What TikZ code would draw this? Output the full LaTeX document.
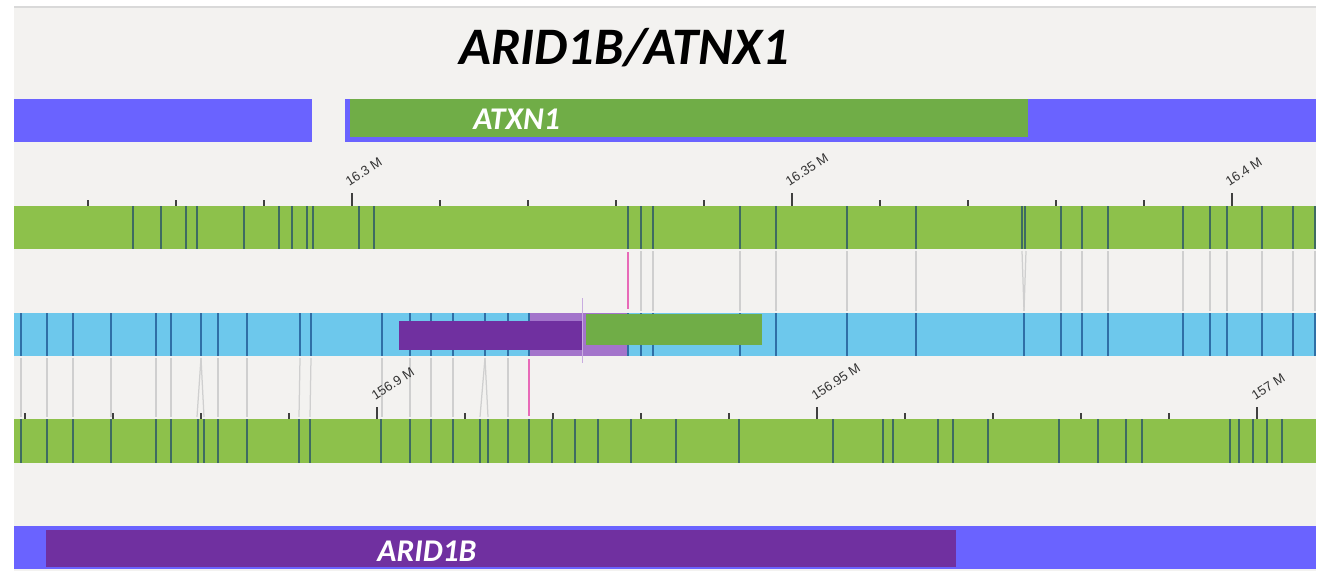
\documentclass[tikz,border=0pt]{standalone}
\usepackage{fontspec}
\setmainfont{Carlito}
\newfontfamily\tickfont{Liberation Sans}
\definecolor{panel}{HTML}{F3F2F0}
\definecolor{trackblue}{HTML}{6A63FF}
\definecolor{genegreen}{HTML}{70AD47}
\definecolor{genepurple}{HTML}{7030A0}
\definecolor{chromgreen}{HTML}{8DC14B}
\definecolor{chromblue}{HTML}{6DC8EC}
\definecolor{exondark}{HTML}{3E6B62}
\definecolor{exonblue}{HTML}{2F6FA6}
\definecolor{linkgrey}{HTML}{CFCFCF}
\definecolor{linkpink}{HTML}{E86AB8}
\definecolor{shadepurple}{HTML}{A374CB}
\tikzset{
  exon/.style={line width=0.4mm, color=exondark},
  exonb/.style={line width=0.4mm, color=exonblue},
  link/.style={line width=0.25mm, color=linkgrey},
  pinklink/.style={line width=0.4mm, color=linkpink},
  tickmark/.style={line width=0.3mm, color=black!75},
  axislabel/.style={font=\tickfont\fontsize{7.5}{8}\selectfont, color=black!80, rotate=33, anchor=base west, inner sep=0pt},
  genelabel/.style={font=\fontsize{18}{20}\selectfont\bfseries\itshape, color=white, anchor=base west, inner sep=0pt}
}
\begin{document}
\begin{tikzpicture}[x=0.02cm, y=-0.02cm]
			%%%%% START %%%%%
			\useasboundingbox (0,0) rectangle (1329,571);
			\fill[white] (0,0) rectangle (1329,571);
			\fill[panel] (14,8) rectangle (1316,571);
			\draw[line width=0.3mm, color=black!15] (14,7) -- (1316,7);
			
			\node[font=\fontsize{30}{36}\selectfont\bfseries\itshape, anchor=base, inner sep=0pt] (title) at (624,65) {ARID1B/ATNX1};
			
			% ATXN1 track
			\fill[trackblue] (14,99) rectangle (312,142);
			\fill[trackblue] (345,99) rectangle (1316,142);
			\fill[genegreen] (350,99) rectangle (1028,137);
			\node[genelabel] (atxn1) at (473,130) {ATXN1};
			
			% chr6 axis
			\foreach \x in {88,176,...,1232} \draw[tickmark] (\x,200) -- (\x,206);
			\foreach \x/\lab in {352/16.3 M, 792/16.35 M, 1232/16.4 M} {
				\draw[tickmark] (\x,193) -- (\x,206);
				\node[axislabel] (top-\x) at (\x-3,187) {\lab};
			}
			
			% chr6 bar
			\fill[chromgreen] (14,206) rectangle (1316,249);
			\foreach \x in {133,161,186,197,244,279,292,307,313,359,374,628,641,653,740,776,847,916,1022,1025,1061,1082,1108,1183,1210,1227,1262,1293,1315}
				\draw[exon] (\x,206) -- (\x,249);
			
			% links upper
			\foreach \x in {641,653,740,776,847,916,1061,1082,1108,1183,1210,1227,1262,1293,1315}
				\draw[link] (\x,251) -- (\x,311);
			\draw[link] (1022,251) -- (1024,311);
			\draw[link] (1026,251) -- (1024,311);
			\draw[pinklink] (628,252) -- (628,309);
			
			% fused transcript
			\fill[chromblue] (14,313) rectangle (1316,356);
			\foreach \x in {21,47,73,111,156,171,201,218,247,300,311,382,410,431,453,485,508,529,628,641,653,740,776,847,916,1024,1061,1082,1108,1183,1210,1227,1262,1293,1315}
				\draw[exonb] (\x,313) -- (\x,356);
			\fill[shadepurple] (530,313) rectangle (627,356);
			\fill[genepurple] (399,321) rectangle (582,350);
			\fill[genegreen] (586,314) rectangle (762,345);
			\draw[line width=0.15mm, color=shadepurple!60] (582,298) -- (582,363);
			
			% links lower
			\foreach \x in {21,47,73,111,156,171,218,247,382,410,431,453,508}
				\draw[link] (\x,358) -- (\x,417);
			\draw[link] (300,358) -- (299,417);
			\draw[link] (311,358) -- (310,417);
			\draw[link] (201,358) -- (197,417);
			\draw[link] (201,358) -- (204,417);
			\draw[link] (485,358) -- (480,417);
			\draw[link] (485,358) -- (488,417);
			\draw[pinklink] (529,359) -- (529,416);
			
			% chr1 axis
			\foreach \x in {25,113,...,1257} \draw[tickmark] (\x,413) -- (\x,419);
			\foreach \x/\lab in {377/156.9 M, 817/156.95 M, 1257/157 M} {
				\draw[tickmark] (\x,407) -- (\x,419);
				\node[axislabel] (low-\x) at (\x-2,401) {\lab};
			}
			
			% chr1 bar
			\fill[chromgreen] (14,419) rectangle (1316,463);
			\foreach \x in {21,47,73,111,156,171,198,204,218,247,299,310,381,410,431,453,480,488,508,529,552,575,598,631,676,739,833,883,893,938,953,988,1059,1098,1126,1142,1230,1239,1253,1267,1282}
				\draw[exon] (\x,419) -- (\x,463);
			
			% ARID1B track
			\fill[trackblue] (14,526) rectangle (1316,569);
			\fill[genepurple] (46,530) rectangle (956,567);
			\node[genelabel] (arid1b) at (377,561) {ARID1B};
			
			%%%%% END %%%%%
\end{tikzpicture}
\end{document}
